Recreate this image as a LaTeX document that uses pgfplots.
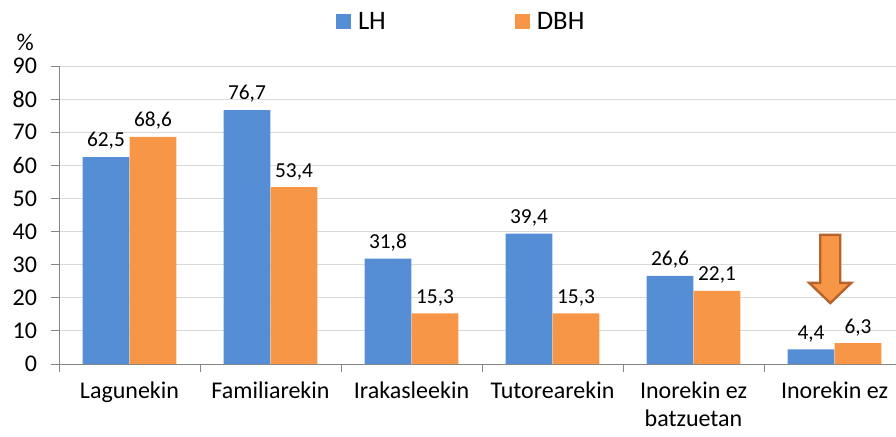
\documentclass[border=0pt]{standalone}
\usepackage{fontspec}
\setmainfont{Carlito}
\usepackage{pgfplots}
\pgfplotsset{compat=1.18}
\definecolor{lhblue}{HTML}{558ED5}
\definecolor{dbhorange}{HTML}{F79646}
\definecolor{arrowedge}{HTML}{B6642C}
\definecolor{gridgray}{HTML}{D9D9D9}
\definecolor{axisgray}{HTML}{868686}
\begin{document}
\begin{tikzpicture}
\begin{axis}[
  at={(44.25pt,54pt)}, anchor=south west,
  scale only axis, width=634.5pt, height=223.5pt,
  xmin=-0.5, xmax=5.5, ymin=0, ymax=90,
  clip=false,
  ybar,
  ytick={0,10,...,90},
  xtick={-0.5,0.5,...,5.5},
  x tick label as interval,
  xticklabels={Lagunekin,Familiarekin,Irakasleekin,Tutorearekin,{Inorekin ez\\batzuetan},Inorekin ez},
  axis x line*=bottom, axis y line*=left,
  ymajorgrids, grid style={gridgray, line width=0.75pt},
  axis line style={axisgray, line width=0.75pt},
  tick style={axisgray, line width=0.75pt},
  tick align=outside, major tick length=6pt,
  /pgf/number format/assume math mode=true,
  yticklabel style={font=\fontsize{18}{20}\selectfont, xshift=-7pt},
  xticklabel style={font=\fontsize{18}{21}\selectfont, align=center, anchor=north, yshift=-6.5pt, inner sep=1pt},
  nodes near coords={\pgfmathprintnumber[fixed,fixed zerofill,precision=1,use comma,assume math mode=true]{\pgfplotspointmeta}},
  every node near coord/.append style={font=\fontsize{16}{18}\selectfont, text=black, yshift=2pt},
  legend columns=2,
  legend style={at={(0.476,1.148)}, anchor=center, draw=none, fill=none,
    font=\fontsize{20}{22}\selectfont,
    /tikz/every odd column/.append style={column sep=3pt},
    /tikz/every even column/.append style={column sep=95pt}},
  legend image code/.code={\draw[#1, draw=none] (0pt,-5.6pt) rectangle (11.25pt,5.6pt);},
]
\addplot[fill=lhblue, draw=none, bar width=0.333, bar shift=-0.1667]
  coordinates {(0,62.5) (1,76.7) (2,31.8) (3,39.4) (4,26.6) (5,4.4)};
\addplot[fill=dbhorange, draw=none, bar width=0.333, bar shift=0.1667]
  coordinates {(0,68.6) (1,53.4) (2,15.3) (3,15.3) (4,22.1) (5,6.3)};
\legend{LH,DBH}
\node[font=\fontsize{18}{20}\selectfont, anchor=center] at (axis description cs:-0.040,1.0805) {\%};
\draw[fill=dbhorange, draw=arrowedge, line width=1.8pt, line join=miter]
  (axis cs:4.899,39) -- (axis cs:5.041,39) -- (axis cs:5.041,24.5) -- (axis cs:5.119,24.5)
  -- (axis cs:4.97,18.4) -- (axis cs:4.821,24.5) -- (axis cs:4.899,24.5) -- cycle;
\end{axis}
\pgfresetboundingbox
\path[use as bounding box] (0,0) rectangle (672pt,327pt);
\end{tikzpicture}
\end{document}
